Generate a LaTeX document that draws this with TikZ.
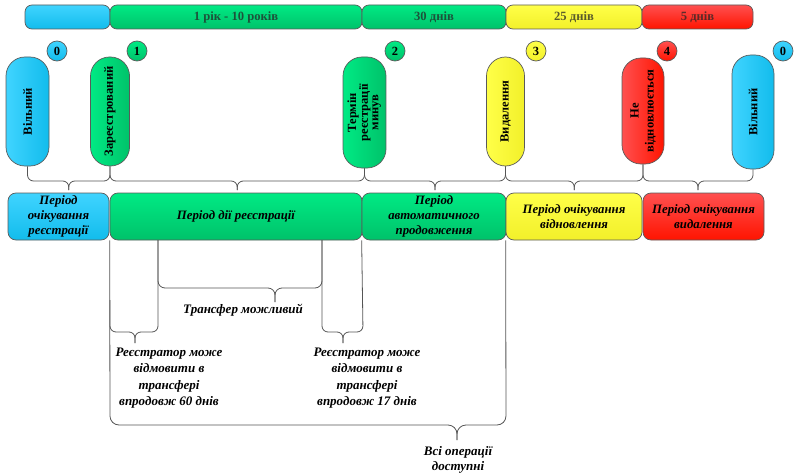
\documentclass[tikz,border=0pt]{standalone}
\usepackage{fontspec}
\setmainfont{Liberation Serif}
\usetikzlibrary{calc}
\definecolor{bluetop}{HTML}{40D4FF}
\definecolor{bluebot}{HTML}{12BCEC}
\definecolor{greentop}{HTML}{00EA84}
\definecolor{greenbot}{HTML}{00C26A}
\definecolor{yeltop}{HTML}{FFFF48}
\definecolor{yelbot}{HTML}{F2F02A}
\definecolor{redtop}{HTML}{FF5050}
\definecolor{redbot}{HTML}{FF1400}
\definecolor{edge}{HTML}{5A5A5A}
\definecolor{braceclr}{HTML}{555555}
\tikzset{
  blueV/.style={top color=bluetop, bottom color=bluebot},
  greenV/.style={top color=greentop, bottom color=greenbot},
  yelV/.style={top color=yeltop, bottom color=yelbot},
  redV/.style={top color=redtop, bottom color=redbot},
  blueH/.style={left color=bluetop, right color=bluebot},
  greenH/.style={left color=greentop, right color=greenbot},
  yelH/.style={left color=yeltop, right color=yelbot},
  redH/.style={left color=redtop, right color=redbot},
  barseg/.style={draw=edge, line width=0.7pt, rounded corners=7pt, minimum height=24pt,
    inner sep=0pt, font=\fontsize{12.6}{14}\selectfont\bfseries, text=black!85, text opacity=0.75},
  numc/.style={circle, draw=edge, line width=0.7pt, minimum size=20pt, inner sep=0pt,
    font=\fontsize{12.5}{13}\selectfont\bfseries},
  pill/.style={draw=edge, line width=0.7pt, rounded corners=19pt, inner sep=0pt,
    font=\fontsize{12.5}{13}\selectfont\bfseries},
  period/.style={draw=edge, line width=0.7pt, rounded corners=8pt, minimum height=47pt,
    inner sep=0pt, align=center, font=\fontsize{12.8}{14.8}\selectfont\bfseries\itshape},
  note/.style={align=center, inner sep=0pt, font=\fontsize{13}{16.5}\selectfont\bfseries\itshape},
  brace/.style={draw=braceclr, line width=0.8pt, rounded corners=6pt},
}
\begin{document}
\begin{tikzpicture}[x=1pt,y=-1pt]
\useasboundingbox (0,0) rectangle (800,476);
% top bar
\node[barseg, blueV, minimum width=85pt] (t0) at (67.5,17) {};
\node[barseg, greenV, minimum width=252pt] (t1) at (236,17) {1 рік - 10 років};
\node[barseg, greenV, minimum width=144pt] (t2) at (434,17) {30 днів};
\node[barseg, yelV, minimum width=136pt] (t3) at (574,17) {25 днів};
\node[barseg, redV, minimum width=111pt] (t4) at (697.5,17) {5 днів};
% numbers
\node[numc, blueV] (c0) at (57,51) {0};
\node[numc, greenV] (c1) at (137,51) {1};
\node[numc, greenV] (c2) at (395,51) {2};
\node[numc, yelV] (c3) at (536,51) {3};
\node[numc, redV] (c4) at (667,51) {4};
\node[numc, blueV] (c5) at (783,51) {0};
% pills
\node[pill, blueH, minimum width=43pt, minimum height=109pt] (p0) at (27.5,111.5) {\rotatebox{90}{Вільний}};
\node[pill, greenH, minimum width=39pt, minimum height=109pt] (p1) at (110,111.5) {\rotatebox{90}{Зареєстрований}};
\node[pill, greenH, minimum width=43pt, minimum height=111pt] (p2) at (364.5,112.5) {\rotatebox{90}{\fontsize{12.5}{10.5}\selectfont\begin{tabular}{@{}c@{}}Термін\\реєстрації\\минув\end{tabular}}};
\node[pill, yelH, minimum width=38pt, minimum height=109pt] (p3) at (505.5,111.5) {\rotatebox{90}{Видалення}};
\node[pill, redH, minimum width=42pt, minimum height=106pt] (p4) at (643,111) {\rotatebox{90}{\fontsize{12.5}{15}\selectfont\begin{tabular}{@{}c@{}}Не\\відновлюється\end{tabular}}};
\node[pill, blueH, minimum width=42pt, minimum height=114pt] (p5) at (753,112) {\rotatebox{90}{Вільний}};
% period boxes
\node[period, blueV, minimum width=101pt] (b0) at (58.5,216.5) {Період\\очікування\\реєстрації};
\node[period, greenV, minimum width=252pt] (b1) at (236,216.5) {Період дії реєстрації};
\node[period, greenV, minimum width=144pt] (b2) at (434,216.5) {Період\\автоматичного\\продовження};
\node[period, yelV, minimum width=136pt] (b3) at (574,216.5) {Період очікування\\відновлення};
\node[period, redV, minimum width=121pt] (b4) at (703.5,216.5) {Період очікування\\видалення};
% upper braces
\coordinate (hb) at (0,181);
\coordinate (tb) at (0,190);
\coordinate (m1) at ($(p0.south)!0.5!(p1.south)$);
\coordinate (m2) at ($(p1.south)!0.5!(p2.south)$);
\coordinate (m3) at ($(p2.south)!0.5!(p3.south)$);
\coordinate (m4) at ($(p3.south)!0.5!(p4.south)$);
\coordinate (m5) at ($(p4.south)!0.5!(p5.south)$);
\foreach \a/\b/\m in {p0/p1/m1, p1/p2/m2, p2/p3/m3, p3/p4/m4, p4/p5/m5}{
  \draw[brace] (\a.south) -- (\a.south |- hb) -- (\m |- hb) -- (\m |- tb);
  \draw[brace] (\b.south) -- (\b.south |- hb) -- (\m |- hb) -- (\m |- tb);
}
% lower braces
\coordinate (lb) at (158,240);
\coordinate (lc) at (322,240);
% all operations
\draw[brace, rounded corners=9pt] (b1.south west) -- (110,425) -- (457,425) -- (457,440);
\draw[brace, rounded corners=9pt] (b3.south west) -- (506,425) -- (457,425) -- (457,440);
% transfer possible
\draw[brace, rounded corners=7pt] (lb) -- (158,288) -- (275,288) -- (275,302);
\draw[brace, rounded corners=7pt] (lc) -- (322,288) -- (275,288) -- (275,302);
% 60 days
\draw[brace] (110,300) -- (110,332) -- (135,332) -- (135,343);
\draw[brace] (lb) -- (158,332) -- (135,332) -- (135,343);
% 17 days
\draw[brace] (lc) -- (322,332) -- (343,332) -- (343,343);
\draw[brace] (b2.south west) -- (363,332) -- (343,332) -- (343,343);
% notes
\node[note] (n1) at (243,310) {Трансфер можливий};
\node[note] (n2) at (169,378) {Реєстратор може\\відмовити в\\трансфері\\впродовж 60 днів};
\node[note] (n3) at (367,378) {Реєстратор може\\відмовити в\\трансфері\\впродовж 17 днів};
\node[note, font=\fontsize{13}{15}\selectfont\bfseries\itshape] (n4) at (458,459.5) {Всі операції\\доступні};
\end{tikzpicture}
\end{document}
